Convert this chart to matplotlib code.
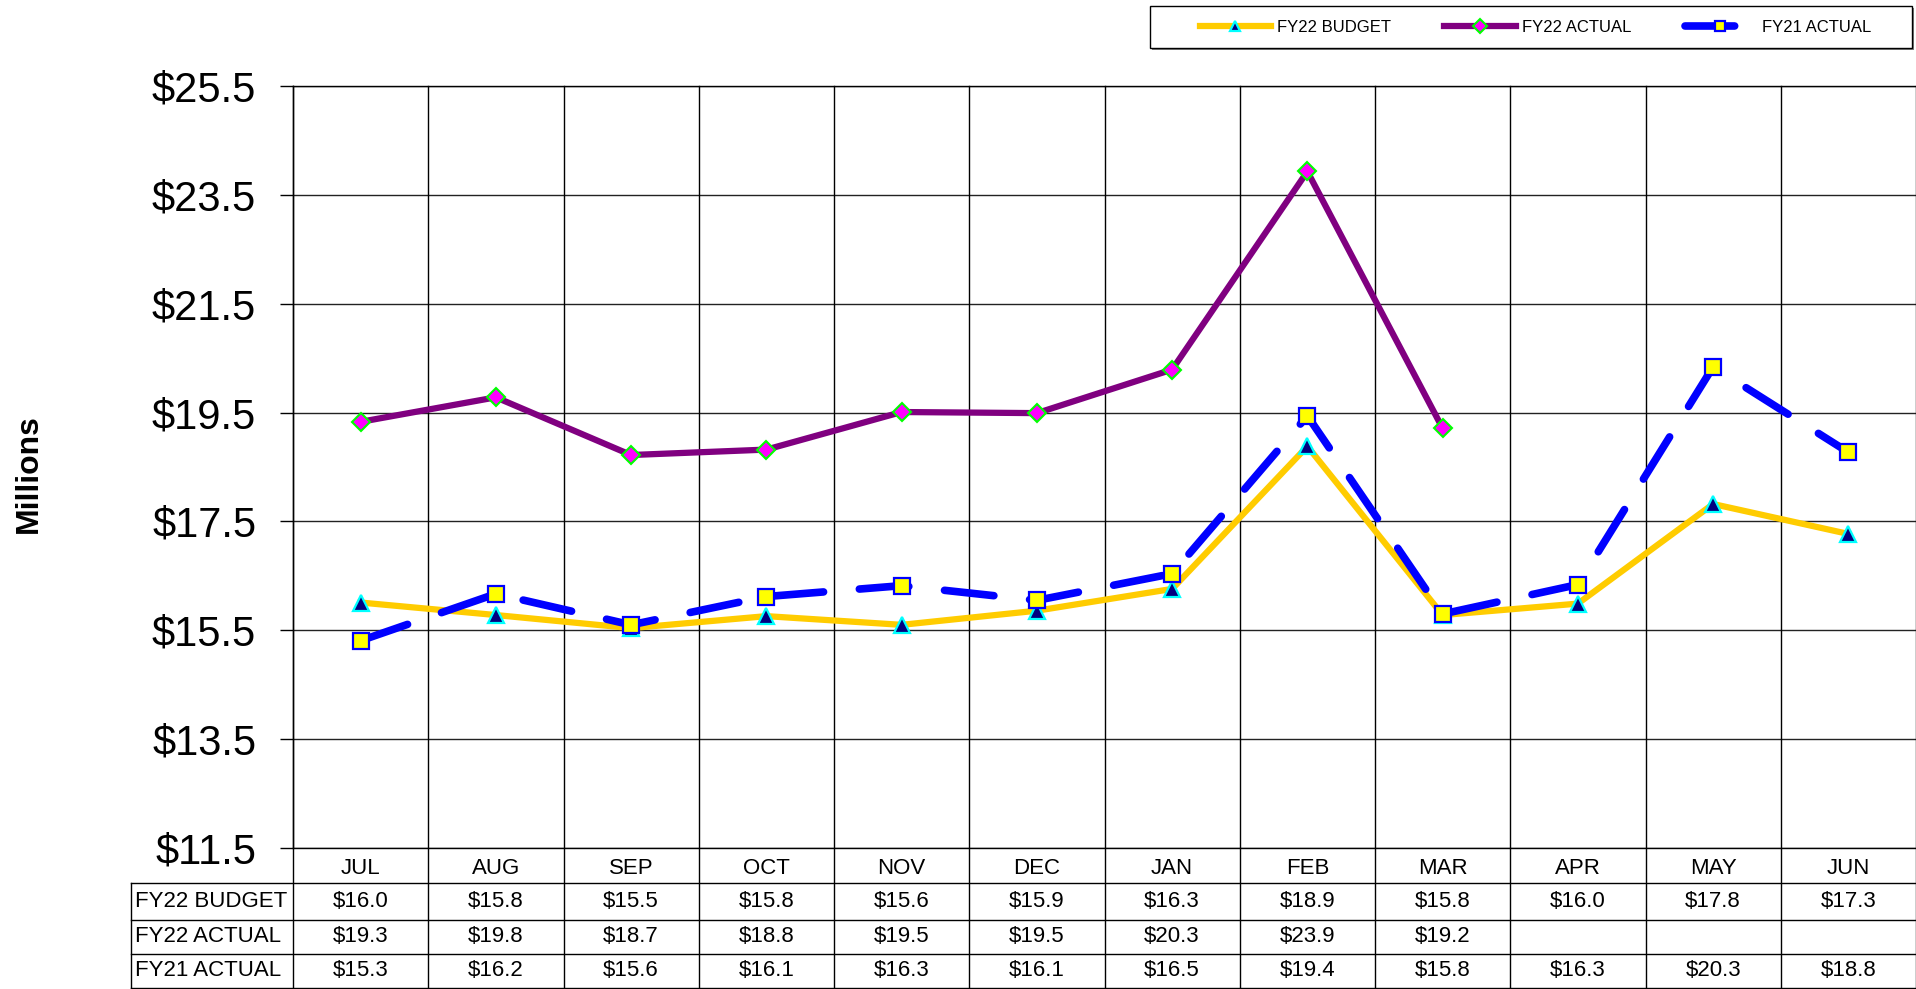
"""Monthly budget vs actual line chart with data table underneath."""

import matplotlib

matplotlib.use("Agg")
import matplotlib.pyplot as plt
from matplotlib.patches import Rectangle

months = ["JUL", "AUG", "SEP", "OCT", "NOV", "DEC", "JAN", "FEB", "MAR", "APR", "MAY", "JUN"]
fy22_budget = [16.01, 15.78, 15.54, 15.76, 15.60, 15.86, 16.26, 18.88, 15.78, 15.99, 17.82, 17.27]
fy22_actual = [19.33, 19.78, 18.72, 18.82, 19.51, 19.49, 20.29, 23.93, 19.21]
fy21_actual = [15.31, 16.17, 15.60, 16.12, 16.32, 16.05, 16.54, 19.44, 15.80, 16.34, 20.34, 18.77]
row_labels = ["FY22 BUDGET", "FY22 ACTUAL", "FY21 ACTUAL"]
y_ticks = [11.5, 13.5, 15.5, 17.5, 19.5, 21.5, 23.5, 25.5]

plt.rcParams["font.family"] = ["Liberation Sans", "DejaVu Sans"]

W, H = 1916, 989
fig = plt.figure(figsize=(W / 100, H / 100), dpi=100)
left_px, right_px, top_px, bottom_px = 293, 1916, 86, 848
ax = fig.add_axes([left_px / W, 1 - bottom_px / H, (right_px - left_px) / W, (bottom_px - top_px) / H])

x = list(range(len(months)))

ax.plot(x, fy22_budget, color="#FFCC00", lw=4.5, marker="^", ms=11.5, mfc="#000080",
        mec="#00FFFF", mew=1.6, label="FY22 BUDGET", zorder=3, clip_on=False)
ax.plot(x[:len(fy22_actual)], fy22_actual, color="#800080", lw=4.5, marker="D", ms=9.5,
        mfc="#FF00FF", mec="#00FF00", mew=1.5, label="FY22 ACTUAL", zorder=4, clip_on=False)
ax.plot(x, fy21_actual, color="#0000FF", lw=5.5, dashes=(6.5, 4.7), dash_capstyle="round",
        marker="s", ms=11.5, mfc="#FFFF00", mec="#0000FF", mew=1.6, label="FY21 ACTUAL",
        zorder=5, clip_on=False)

ax.set_xlim(-0.5, len(months) - 0.5)
ax.set_ylim(y_ticks[0], y_ticks[-1])
ax.set_yticks(y_ticks)
ax.set_yticklabels([f"${v:.1f}" for v in y_ticks], fontsize=30)
ax.tick_params(axis="y", length=9.5, width=1, pad=17, color="black")
ax.set_xticks([])
ax.spines["right"].set_visible(False)
for s in ["left", "top", "bottom"]:
    ax.spines[s].set_linewidth(1)
    ax.spines[s].set_color("black")

# grid: horizontal at ticks, vertical at category boundaries
for v in y_ticks:
    ax.axhline(v, color="#222222", lw=1, zorder=1)
tr = ax.get_xaxis_transform()
plot_h = bottom_px - top_px
row_px = [848, 883, 920, 954, 988]
row_y = [-(p - bottom_px) / plot_h for p in row_px]
for b in range(len(months) + 1):
    xb = b - 0.5
    ax.plot([xb, xb], [1, row_y[-1]], transform=tr, color="black", lw=1, clip_on=False, zorder=1)

# data table below the axes
label_left = -0.5 - (left_px - 131) / ((right_px - left_px) / len(months))
for yy in row_y[1:]:
    ax.plot([label_left, len(months) - 0.5], [yy, yy], transform=tr, color="black", lw=1,
            clip_on=False)
ax.plot([label_left, label_left], [row_y[1], row_y[-1]], transform=tr, color="black", lw=1,
        clip_on=False)

month_y = -(869 - bottom_px) / plot_h
for i, m in enumerate(months):
    ax.text(i, month_y, m, transform=tr, ha="center", va="center", fontsize=16)

series = [fy22_budget, fy22_actual, fy21_actual]
for r, (name, vals) in enumerate(zip(row_labels, series)):
    yc = (row_y[r + 1] + row_y[r + 2]) / 2
    ax.text(label_left + 0.03, yc, name, transform=tr, ha="left", va="center", fontsize=16)
    for i, v in enumerate(vals):
        ax.text(i, yc, f"${v:.1f}", transform=tr, ha="center", va="center", fontsize=16)

fig.text(29 / W, 1 - 474 / H, "Millions", rotation=90, ha="center", va="center",
         fontsize=23, fontweight="bold")

# legend box with a grey drop shadow (kept behind the legend entries)
fig.patches.append(Rectangle((1152 / W, 1 - 50 / H), (1912 - 1150) / W, 42 / H,
                             transform=fig.transFigure, facecolor="#808080", edgecolor="none",
                             zorder=-2))
fig.patches.append(Rectangle((1150 / W, 1 - 48 / H), (1912 - 1150) / W, 42 / H,
                             transform=fig.transFigure, facecolor="white", edgecolor="black",
                             lw=1, zorder=-1))
leg = ax.legend(loc="center", bbox_to_anchor=((1203 + 1868) / 2 / W, 1 - 27 / H),
                bbox_transform=fig.transFigure, ncol=3, fontsize=12, frameon=False,
                borderaxespad=0, borderpad=0, handlelength=4.3, columnspacing=3.2,
                handletextpad=0.35)
for h in leg.get_lines():
    h.set_markersize(7)

fig.savefig("out.png", dpi=100)
